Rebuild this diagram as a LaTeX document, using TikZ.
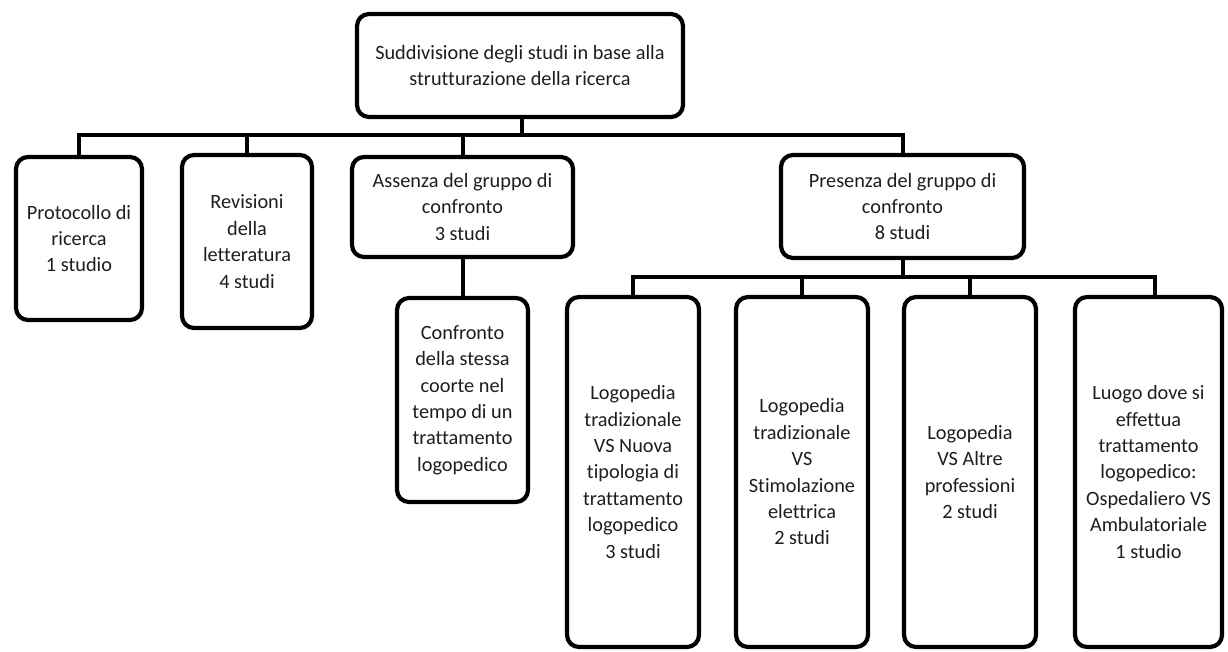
\documentclass[tikz,border=0pt]{standalone}
\usepackage{fontspec}
\setmainfont[Ligatures={NoCommon}]{Carlito}
\usetikzlibrary{calc}
\definecolor{txt}{HTML}{1E1E1E}
\tikzset{
  box/.style={draw=black, fill=white, line width=4.2pt, rounded corners=12pt,
    align=center, inner sep=0pt, text=txt,
    font=\fontsize{20.3}{26.4}\selectfont},
  conn/.style={draw=black, line width=4pt, line cap=rect, line join=miter}
}
\begin{document}
\begin{tikzpicture}[x=1pt,y=-1pt]
\useasboundingbox (0,0) rectangle (1228,652);
% top
\node[box, minimum width=326pt, minimum height=103pt] (top) at (520,65.5)
  {Suddivisione degli studi in base alla\\strutturazione della ricerca};
% level 1
\node[box, minimum width=126pt, minimum height=163pt] (b1) at (79,238.5)
  {Protocollo di\\ricerca\\1 studio};
\node[box, minimum width=130pt, minimum height=173pt] (b2) at (247,241.5)
  {Revisioni\\della\\letteratura\\4 studi};
\node[box, minimum width=221pt, minimum height=100pt] (b3) at (462.5,207)
  {Assenza del gruppo di\\confronto\\3 studi};
\node[box, minimum width=243pt, minimum height=103pt] (b4) at (902.5,206.5)
  {Presenza del gruppo di\\confronto\\8 studi};
% level 2
\node[box, minimum width=131pt, minimum height=204pt] (b3a) at (462.5,400)
  {Confronto\\della stessa\\coorte nel\\tempo di un\\trattamento\\logopedico};
\node[box, minimum width=132pt, minimum height=350pt] (c1) at (633,472)
  {Logopedia\\tradizionale\\VS Nuova\\tipologia di\\trattamento\\logopedico\\3 studi};
\node[box, minimum width=132pt, minimum height=350pt] (c2) at (802,472)
  {Logopedia\\tradizionale\\VS\\Stimolazione\\elettrica\\2 studi};
\node[box, minimum width=132pt, minimum height=350pt] (c3) at (970,472)
  {Logopedia\\VS Altre\\professioni\\2 studi};
\node[box, minimum width=147pt, minimum height=350pt] (c4) at (1148.5,472)
  {Luogo dove si\\effettua\\trattamento\\logopedico:\\Ospedaliero VS\\Ambulatoriale\\1 studio};
% junctions
\coordinate (j1) at (522,135);
\coordinate (j2) at (902.5,277);
\coordinate (s4) at ($(c4.north)+(6.5,0)$);
% connectors
\draw[conn] (top.south -| j1) -- (j1);
\draw[conn] (b1.north) -- (b1.north |- j1) -- (b4.north |- j1) -- (b4.north);
\draw[conn] (b2.north) -- (b2.north |- j1);
\draw[conn] (b3.north) -- (b3.north |- j1);
\draw[conn] (b3.south) -- (b3a.north);
\draw[conn] (b4.south) -- (j2);
\draw[conn] (c1.north) -- (c1.north |- j2) -- (s4 |- j2) -- (s4);
\draw[conn] (c2.north) -- (c2.north |- j2);
\draw[conn] (c3.north) -- (c3.north |- j2);
\end{tikzpicture}
\end{document}
